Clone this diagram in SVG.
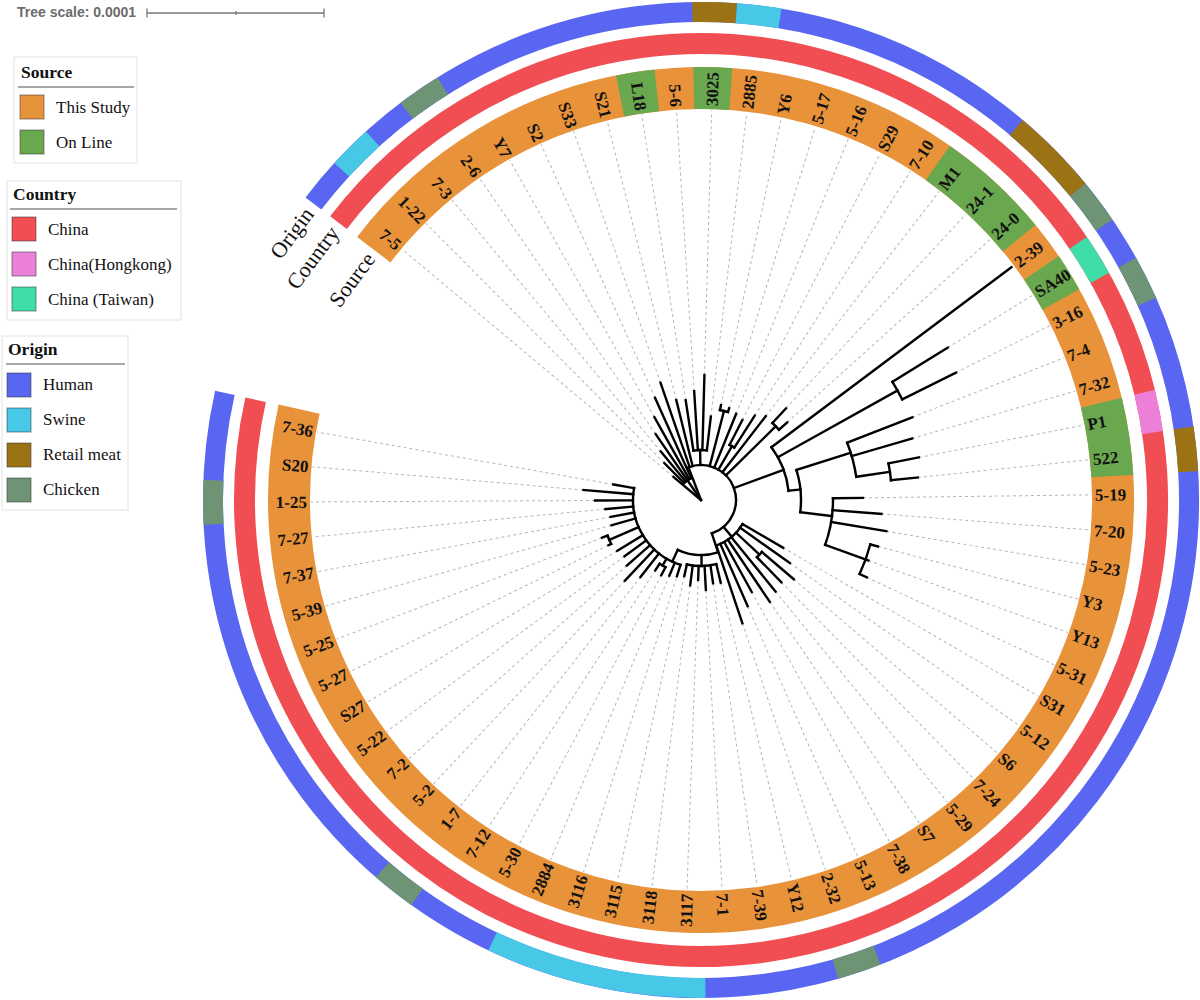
<svg xmlns="http://www.w3.org/2000/svg" width="1200" height="1000" viewBox="0 0 1200 1000">
<style>
.lg{font-family:"Liberation Serif",serif;font-size:17px;fill:#111}
.lgt{font-weight:bold;font-size:17.5px}
.box{fill:#fff;stroke:#e2e2e2;stroke-width:1}
.rule{stroke:#8a8a8a;stroke-width:1.5}
.sw{stroke:#333;stroke-opacity:.55;stroke-width:1}
.lab{font-family:"Liberation Serif",serif;font-size:17px;font-weight:bold;fill:#111}
.rt{font-family:"Liberation Serif",serif;font-size:22px;fill:#111}
.rings circle{fill:none}
.d{stroke:#b5b5b5;stroke-width:1;stroke-dasharray:3 3}
.tree line,.tree circle{stroke:#000;stroke-width:2.4;fill:none;stroke-linecap:square}
</style>
<rect width="1200" height="1000" fill="#fff"/>

<g id="tree-scale">
<text x="17" y="17" font-family="Liberation Sans,Arial,sans-serif" font-size="14" font-weight="bold" fill="#6b6b6b">Tree scale: 0.0001</text>
<g stroke="#777" stroke-width="1.3">
<line x1="147" y1="13" x2="324" y2="13"/>
<line x1="147" y1="8.5" x2="147" y2="17.5"/>
<line x1="324" y1="8.5" x2="324" y2="17.5"/>
<line x1="236" y1="11" x2="236" y2="15"/>
</g>
</g>

<g id="legend-source" class="lg">
<rect class="box" x="14" y="57" width="123" height="106"/>
<text class="lgt" x="21" y="78">Source</text>
<line class="rule" x1="18" y1="87" x2="134" y2="87"/>
<rect class="sw" x="20" y="95" width="24" height="24" fill="#E8923A"/>
<text x="56" y="113">This Study</text>
<rect class="sw" x="20" y="130" width="24" height="24" fill="#69A84F"/>
<text x="56" y="148">On Line</text>
</g>
<g id="legend-country" class="lg">
<rect class="box" x="7" y="181" width="174" height="139"/>
<text class="lgt" x="13" y="200">Country</text>
<line class="rule" x1="10" y1="209" x2="177" y2="209"/>
<rect class="sw" x="12" y="217" width="24" height="24" fill="#F04E52"/>
<text x="48" y="235">China</text>
<rect class="sw" x="12" y="252" width="24" height="24" fill="#EC80D8"/>
<text x="48" y="270">China(Hongkong)</text>
<rect class="sw" x="12" y="287" width="24" height="24" fill="#3EDDA8"/>
<text x="48" y="305">China (Taiwan)</text>
</g>
<g id="legend-origin" class="lg">
<rect class="box" x="2" y="336" width="126" height="174"/>
<text class="lgt" x="8" y="355">Origin</text>
<line class="rule" x1="6" y1="364" x2="125" y2="364"/>
<rect class="sw" x="7" y="373" width="24" height="24" fill="#5866F2"/>
<text x="43" y="390">Human</text>
<rect class="sw" x="7" y="408" width="24" height="24" fill="#47C8E6"/>
<text x="43" y="425">Swine</text>
<rect class="sw" x="7" y="443" width="24" height="24" fill="#9C7314"/>
<text x="43" y="460">Retail meat</text>
<rect class="sw" x="7" y="478" width="24" height="24" fill="#6E9475"/>
<text x="43" y="495">Chicken</text>
</g>

<g id="rings" class="rings" transform="translate(701 500)">
<g id="ring-source" stroke-width="42">
<circle r="412" stroke="#E8923A" stroke-dasharray="2410.4 9999" transform="rotate(-142.58)"/>
<circle r="412" stroke="#69A84F" stroke-dasharray="37.08 9999" transform="rotate(-101.32)"/>
<circle r="412" stroke="#69A84F" stroke-dasharray="37.08 9999" transform="rotate(-91.01)"/>
<circle r="412" stroke="#69A84F" stroke-dasharray="111.25 9999" transform="rotate(-54.91)"/>
<circle r="412" stroke="#69A84F" stroke-dasharray="37.08 9999" transform="rotate(-34.28)"/>
<circle r="412" stroke="#69A84F" stroke-dasharray="74.17 9999" transform="rotate(-13.65)"/>
</g>
<g id="ring-country" stroke-width="21">
<circle r="456.5" stroke="#F04E52" stroke-dasharray="2670.7 9999" transform="rotate(-142.58)"/>
<circle r="456.5" stroke="#3EDDA8" stroke-dasharray="41.09 9999" transform="rotate(-34.28)"/>
<circle r="456.5" stroke="#EC80D8" stroke-dasharray="41.09 9999" transform="rotate(-13.65)"/>
</g>
<g id="ring-origin" stroke-width="20">
<circle r="488" stroke="#5866F2" stroke-dasharray="2855.0 9999" transform="rotate(-142.58)"/>
<circle r="488" stroke="#47C8E6" stroke-dasharray="43.92 9999" transform="rotate(-137.42)"/>
<circle r="488" stroke="#6E9475" stroke-dasharray="43.92 9999" transform="rotate(-127.11)"/>
<circle r="488" stroke="#9C7314" stroke-dasharray="43.92 9999" transform="rotate(-91.01)"/>
<circle r="488" stroke="#47C8E6" stroke-dasharray="43.92 9999" transform="rotate(-85.85)"/>
<circle r="488" stroke="#9C7314" stroke-dasharray="87.85 9999" transform="rotate(-49.75)"/>
<circle r="488" stroke="#6E9475" stroke-dasharray="43.92 9999" transform="rotate(-39.44)"/>
<circle r="488" stroke="#6E9475" stroke-dasharray="43.92 9999" transform="rotate(-29.12)"/>
<circle r="488" stroke="#9C7314" stroke-dasharray="43.92 9999" transform="rotate(-8.50)"/>
<circle r="488" stroke="#6E9475" stroke-dasharray="43.92 9999" transform="rotate(68.86)"/>
<circle r="488" stroke="#47C8E6" stroke-dasharray="219.62 9999" transform="rotate(89.49)"/>
<circle r="488" stroke="#6E9475" stroke-dasharray="43.92 9999" transform="rotate(125.59)"/>
<circle r="488" stroke="#6E9475" stroke-dasharray="43.92 9999" transform="rotate(177.16)"/>
</g>
<g id="ring-titles" class="rt" text-anchor="end">
<text transform="rotate(-53.5)" x="0" y="-488" dy="0.35em">Origin</text>
<text transform="rotate(-53.5)" x="0" y="-456.5" dy="0.35em">Country</text>
<text transform="rotate(-53.5)" x="0" y="-412" dy="0.35em">Source</text>
</g>
</g>

<g id="leaves" class="lab" transform="translate(701 500)">
<g id="n01" transform="rotate(-140)"><line class="d" x1="36" x2="390"/><text transform="rotate(180)" x="-394" y="6" text-anchor="end">7-5</text></g>
<g id="n02" transform="rotate(-134.84)"><line class="d" x1="52" x2="390"/><text transform="rotate(180)" x="-394" y="6" text-anchor="end">1-22</text></g>
<g id="n03" transform="rotate(-129.69)"><line class="d" x1="63" x2="390"/><text transform="rotate(180)" x="-394" y="6" text-anchor="end">7-3</text></g>
<g id="n04" transform="rotate(-124.53)"><line class="d" x1="80" x2="390"/><text transform="rotate(180)" x="-394" y="6" text-anchor="end">2-6</text></g>
<g id="n05" transform="rotate(-119.37)"><line class="d" x1="95" x2="390"/><text transform="rotate(180)" x="-394" y="6" text-anchor="end">Y7</text></g>
<g id="n06" transform="rotate(-114.22)"><line class="d" x1="112" x2="390"/><text transform="rotate(180)" x="-394" y="6" text-anchor="end">S2</text></g>
<g id="n07" transform="rotate(-109.06)"><line class="d" x1="124" x2="390"/><text transform="rotate(180)" x="-394" y="6" text-anchor="end">S33</text></g>
<g id="n08" transform="rotate(-103.90)"><line class="d" x1="103" x2="390"/><text transform="rotate(180)" x="-394" y="6" text-anchor="end">S21</text></g>
<g id="n09" transform="rotate(-98.74)"><line class="d" x1="101" x2="390"/><text transform="rotate(180)" x="-394" y="6" text-anchor="end">L18</text></g>
<g id="n10" transform="rotate(-93.59)"><line class="d" x1="109" x2="390"/><text transform="rotate(180)" x="-394" y="6" text-anchor="end">5-6</text></g>
<g id="n11" transform="rotate(-88.43)"><line class="d" x1="125" x2="390"/><text x="394" y="6">3025</text></g>
<g id="n12" transform="rotate(-83.27)"><line class="d" x1="84" x2="390"/><text x="394" y="6">2885</text></g>
<g id="n13" transform="rotate(-78.12)"><line class="d" x1="97" x2="390"/><text x="394" y="6">Y6</text></g>
<g id="n14" transform="rotate(-72.96)"><line class="d" x1="96" x2="390"/><text x="394" y="6">5-17</text></g>
<g id="n15" transform="rotate(-67.80)"><line class="d" x1="93" x2="390"/><text x="394" y="6">5-16</text></g>
<g id="n16" transform="rotate(-62.65)"><line class="d" x1="90" x2="390"/><text x="394" y="6">S29</text></g>
<g id="n17" transform="rotate(-57.49)"><line class="d" x1="100" x2="390"/><text x="394" y="6">7-10</text></g>
<g id="n18" transform="rotate(-52.33)"><line class="d" x1="106" x2="390"/><text x="394" y="6">M1</text></g>
<g id="n19" transform="rotate(-47.17)"><line class="d" x1="125" x2="390"/><text x="394" y="6">24-1</text></g>
<g id="n20" transform="rotate(-42.02)"><line class="d" x1="116" x2="390"/><text x="394" y="6">24-0</text></g>
<g id="n21" transform="rotate(-36.86)"><text x="394" y="6">2-39</text></g>
<g id="n22" transform="rotate(-31.70)"><line class="d" x1="290" x2="390"/><text x="394" y="6">SA40</text></g>
<g id="n23" transform="rotate(-26.55)"><line class="d" x1="285" x2="390"/><text x="394" y="6">3-16</text></g>
<g id="n24" transform="rotate(-21.39)"><line class="d" x1="227" x2="390"/><text x="394" y="6">7-4</text></g>
<g id="n25" transform="rotate(-16.23)"><line class="d" x1="220" x2="390"/><text x="394" y="6">7-32</text></g>
<g id="n26" transform="rotate(-11.07)"><line class="d" x1="222" x2="390"/><text x="394" y="6">P1</text></g>
<g id="n27" transform="rotate(-5.92)"><line class="d" x1="218" x2="390"/><text x="394" y="6">522</text></g>
<g id="n28" transform="rotate(-0.76)"><line class="d" x1="162" x2="390"/><text x="394" y="6">5-19</text></g>
<g id="n29" transform="rotate(4.40)"><line class="d" x1="181" x2="390"/><text x="394" y="6">7-20</text></g>
<g id="n30" transform="rotate(9.55)"><line class="d" x1="188" x2="390"/><text x="394" y="6">5-23</text></g>
<g id="n31" transform="rotate(14.71)"><line class="d" x1="183" x2="390"/><text x="394" y="6">Y3</text></g>
<g id="n32" transform="rotate(19.87)"><line class="d" x1="178" x2="390"/><text x="394" y="6">Y13</text></g>
<g id="n33" transform="rotate(25.02)"><line class="d" x1="183" x2="390"/><text x="394" y="6">5-31</text></g>
<g id="n34" transform="rotate(30.18)"><line class="d" x1="95" x2="390"/><text x="394" y="6">S31</text></g>
<g id="n35" transform="rotate(35.34)"><line class="d" x1="109" x2="390"/><text x="394" y="6">5-12</text></g>
<g id="n36" transform="rotate(40.49)"><line class="d" x1="122" x2="390"/><text x="394" y="6">S6</text></g>
<g id="n37" transform="rotate(45.65)"><line class="d" x1="115" x2="390"/><text x="394" y="6">7-24</text></g>
<g id="n38" transform="rotate(50.81)"><line class="d" x1="118" x2="390"/><text x="394" y="6">5-29</text></g>
<g id="n39" transform="rotate(55.96)"><line class="d" x1="123" x2="390"/><text x="394" y="6">S7</text></g>
<g id="n40" transform="rotate(61.12)"><line class="d" x1="105" x2="390"/><text x="394" y="6">7-38</text></g>
<g id="n41" transform="rotate(66.28)"><line class="d" x1="116" x2="390"/><text x="394" y="6">5-13</text></g>
<g id="n42" transform="rotate(71.43)"><line class="d" x1="130" x2="390"/><text x="394" y="6">2-32</text></g>
<g id="n43" transform="rotate(76.59)"><line class="d" x1="85" x2="390"/><text x="394" y="6">Y12</text></g>
<g id="n44" transform="rotate(81.75)"><line class="d" x1="84" x2="390"/><text x="394" y="6">7-39</text></g>
<g id="n45" transform="rotate(86.90)"><line class="d" x1="90" x2="390"/><text x="394" y="6">7-1</text></g>
<g id="n46" transform="rotate(92.06)"><line class="d" x1="80" x2="390"/><text transform="rotate(180)" x="-394" y="6" text-anchor="end">3117</text></g>
<g id="n47" transform="rotate(97.22)"><line class="d" x1="86" x2="390"/><text transform="rotate(180)" x="-394" y="6" text-anchor="end">3118</text></g>
<g id="n48" transform="rotate(102.37)"><line class="d" x1="78" x2="390"/><text transform="rotate(180)" x="-394" y="6" text-anchor="end">3115</text></g>
<g id="n49" transform="rotate(107.53)"><line class="d" x1="82" x2="390"/><text transform="rotate(180)" x="-394" y="6" text-anchor="end">3116</text></g>
<g id="n50" transform="rotate(112.69)"><line class="d" x1="82" x2="390"/><text transform="rotate(180)" x="-394" y="6" text-anchor="end">2884</text></g>
<g id="n51" transform="rotate(117.84)"><line class="d" x1="85" x2="390"/><text transform="rotate(180)" x="-394" y="6" text-anchor="end">5-30</text></g>
<g id="n52" transform="rotate(123.00)"><line class="d" x1="84" x2="390"/><text transform="rotate(180)" x="-394" y="6" text-anchor="end">7-12</text></g>
<g id="n53" transform="rotate(128.16)"><line class="d" x1="98" x2="390"/><text transform="rotate(180)" x="-394" y="6" text-anchor="end">1-7</text></g>
<g id="n54" transform="rotate(133.31)"><line class="d" x1="111" x2="390"/><text transform="rotate(180)" x="-394" y="6" text-anchor="end">5-2</text></g>
<g id="n55" transform="rotate(138.47)"><line class="d" x1="99" x2="390"/><text transform="rotate(180)" x="-394" y="6" text-anchor="end">7-2</text></g>
<g id="n56" transform="rotate(143.63)"><line class="d" x1="95" x2="390"/><text transform="rotate(180)" x="-394" y="6" text-anchor="end">5-22</text></g>
<g id="n57" transform="rotate(148.78)"><line class="d" x1="98" x2="390"/><text transform="rotate(180)" x="-394" y="6" text-anchor="end">S27</text></g>
<g id="n58" transform="rotate(153.94)"><line class="d" x1="103" x2="390"/><text transform="rotate(180)" x="-394" y="6" text-anchor="end">5-27</text></g>
<g id="n59" transform="rotate(159.10)"><line class="d" x1="106" x2="390"/><text transform="rotate(180)" x="-394" y="6" text-anchor="end">5-25</text></g>
<g id="n60" transform="rotate(164.25)"><line class="d" x1="93" x2="390"/><text transform="rotate(180)" x="-394" y="6" text-anchor="end">5-39</text></g>
<g id="n61" transform="rotate(169.41)"><line class="d" x1="92" x2="390"/><text transform="rotate(180)" x="-394" y="6" text-anchor="end">7-37</text></g>
<g id="n62" transform="rotate(174.57)"><line class="d" x1="96" x2="390"/><text transform="rotate(180)" x="-394" y="6" text-anchor="end">7-27</text></g>
<g id="n63" transform="rotate(179.72)"><line class="d" x1="106" x2="390"/><text transform="rotate(180)" x="-394" y="6" text-anchor="end">1-25</text></g>
<g id="n64" transform="rotate(184.88)"><line class="d" x1="118" x2="390"/><text transform="rotate(180)" x="-394" y="6" text-anchor="end">S20</text></g>
<g id="n65" transform="rotate(190.04)"><line class="d" x1="89" x2="390"/><text transform="rotate(180)" x="-394" y="6" text-anchor="end">7-36</text></g>
</g>

<g id="tree" class="tree" transform="translate(701 500)">
<circle r="24" stroke-dasharray="8.64 9999" transform="rotate(-134.84)"/>
<circle r="35" stroke-dasharray="111.79 9999" transform="rotate(-111)"/>
<circle r="50" stroke-dasharray="13.50 9999" transform="rotate(-98.74)"/>
<circle r="92" stroke-dasharray="8.29 9999" transform="rotate(-78.12)"/>
<circle r="62" stroke-dasharray="5.58 9999" transform="rotate(-62.65)"/>
<circle r="105" stroke-dasharray="9.44 9999" transform="rotate(-47.17)"/>
<circle r="88" stroke-dasharray="47.40 9999" transform="rotate(-36.86)"/>
<circle r="225" stroke-dasharray="20.22 9999" transform="rotate(-31.70)"/>
<circle r="100" stroke-dasharray="42.76 9999" transform="rotate(-17.5)"/>
<circle r="157" stroke-dasharray="35.32 9999" transform="rotate(-21.39)"/>
<circle r="191" stroke-dasharray="17.17 9999" transform="rotate(-11.07)"/>
<circle r="132" stroke-dasharray="47.53 9999" transform="rotate(-0.76)"/>
<circle r="175" stroke-dasharray="31.49 9999" transform="rotate(14.71)"/>
<circle r="48" stroke-dasharray="34.56 9999" transform="rotate(30.18)"/>
<circle r="80" stroke-dasharray="7.21 9999" transform="rotate(40.49)"/>
<circle r="55" stroke-dasharray="41.28 9999" transform="rotate(72)"/>
<circle r="66" stroke-dasharray="29.70 9999" transform="rotate(76.59)"/>
<circle r="68" stroke-dasharray="97.92 9999" transform="rotate(107.53)"/>
<circle r="76" stroke-dasharray="6.85 9999" transform="rotate(117.84)"/>
<circle r="100" stroke-dasharray="9.01 9999" transform="rotate(153.94)"/>
<line x1="0" x2="24" transform="rotate(-124.5)"/>
<line x1="0" x2="35" transform="rotate(-111)"/>
<line x1="35" x2="50" transform="rotate(-91)"/>
<line x1="35" x2="92" transform="rotate(-75.54)"/>
<line x1="35" x2="62" transform="rotate(-60.07)"/>
<line x1="35" x2="105" transform="rotate(-44.6)"/>
<line x1="35" x2="88" transform="rotate(-20)"/>
<line x1="88" x2="225" transform="rotate(-29.12)"/>
<line x1="88" x2="100" transform="rotate(-6)"/>
<line x1="100" x2="157" transform="rotate(-17.5)"/>
<line x1="157" x2="191" transform="rotate(-8.5)"/>
<line x1="100" x2="132" transform="rotate(7)"/>
<line x1="132" x2="175" transform="rotate(19.87)"/>
<line x1="35" x2="48" transform="rotate(50)"/>
<line x1="48" x2="80" transform="rotate(43.07)"/>
<line x1="35" x2="55" transform="rotate(72)"/>
<line x1="55" x2="66" transform="rotate(89.5)"/>
<line x1="55" x2="68" transform="rotate(115)"/>
<line x1="68" x2="76" transform="rotate(120.42)"/>
<line x1="68" x2="100" transform="rotate(156.52)"/>
<line x1="0" x2="36" transform="rotate(-140)"/>
<line x1="24" x2="52" transform="rotate(-134.84)"/>
<line x1="24" x2="63" transform="rotate(-129.69)"/>
<line x1="24" x2="80" transform="rotate(-124.53)"/>
<line x1="24" x2="95" transform="rotate(-119.37)"/>
<line x1="24" x2="112" transform="rotate(-114.22)"/>
<line x1="35" x2="124" transform="rotate(-109.06)"/>
<line x1="35" x2="103" transform="rotate(-103.90)"/>
<line x1="50" x2="101" transform="rotate(-98.74)"/>
<line x1="50" x2="109" transform="rotate(-93.59)"/>
<line x1="50" x2="125" transform="rotate(-88.43)"/>
<line x1="50" x2="84" transform="rotate(-83.27)"/>
<line x1="92" x2="97" transform="rotate(-78.12)"/>
<line x1="92" x2="96" transform="rotate(-72.96)"/>
<line x1="35" x2="93" transform="rotate(-67.80)"/>
<line x1="62" x2="90" transform="rotate(-62.65)"/>
<line x1="62" x2="100" transform="rotate(-57.49)"/>
<line x1="35" x2="106" transform="rotate(-52.33)"/>
<line x1="105" x2="125" transform="rotate(-47.17)"/>
<line x1="105" x2="116" transform="rotate(-42.02)"/>
<line x1="88" x2="388" transform="rotate(-36.86)"/>
<line x1="225" x2="290" transform="rotate(-31.70)"/>
<line x1="225" x2="285" transform="rotate(-26.55)"/>
<line x1="157" x2="227" transform="rotate(-21.39)"/>
<line x1="157" x2="220" transform="rotate(-16.23)"/>
<line x1="191" x2="222" transform="rotate(-11.07)"/>
<line x1="191" x2="218" transform="rotate(-5.92)"/>
<line x1="132" x2="162" transform="rotate(-0.76)"/>
<line x1="132" x2="181" transform="rotate(4.40)"/>
<line x1="132" x2="188" transform="rotate(9.55)"/>
<line x1="175" x2="183" transform="rotate(14.71)"/>
<line x1="175" x2="178" transform="rotate(19.87)"/>
<line x1="175" x2="183" transform="rotate(25.02)"/>
<line x1="48" x2="95" transform="rotate(30.18)"/>
<line x1="48" x2="109" transform="rotate(35.34)"/>
<line x1="80" x2="122" transform="rotate(40.49)"/>
<line x1="80" x2="115" transform="rotate(45.65)"/>
<line x1="48" x2="118" transform="rotate(50.81)"/>
<line x1="48" x2="123" transform="rotate(55.96)"/>
<line x1="48" x2="105" transform="rotate(61.12)"/>
<line x1="48" x2="116" transform="rotate(66.28)"/>
<line x1="48" x2="130" transform="rotate(71.43)"/>
<line x1="66" x2="85" transform="rotate(76.59)"/>
<line x1="66" x2="84" transform="rotate(81.75)"/>
<line x1="66" x2="90" transform="rotate(86.90)"/>
<line x1="66" x2="80" transform="rotate(92.06)"/>
<line x1="66" x2="86" transform="rotate(97.22)"/>
<line x1="66" x2="78" transform="rotate(102.37)"/>
<line x1="68" x2="80" transform="rotate(107.53)"/>
<line x1="68" x2="82" transform="rotate(112.69)"/>
<line x1="76" x2="85" transform="rotate(117.84)"/>
<line x1="76" x2="84" transform="rotate(123.00)"/>
<line x1="68" x2="98" transform="rotate(128.16)"/>
<line x1="68" x2="111" transform="rotate(133.31)"/>
<line x1="68" x2="99" transform="rotate(138.47)"/>
<line x1="68" x2="95" transform="rotate(143.63)"/>
<line x1="68" x2="98" transform="rotate(148.78)"/>
<line x1="100" x2="103" transform="rotate(153.94)"/>
<line x1="100" x2="106" transform="rotate(159.10)"/>
<line x1="68" x2="93" transform="rotate(164.25)"/>
<line x1="68" x2="92" transform="rotate(169.41)"/>
<line x1="68" x2="96" transform="rotate(174.57)"/>
<line x1="68" x2="106" transform="rotate(179.72)"/>
<line x1="68" x2="118" transform="rotate(184.88)"/>
<line x1="68" x2="89" transform="rotate(190.04)"/>
</g>
</svg>
